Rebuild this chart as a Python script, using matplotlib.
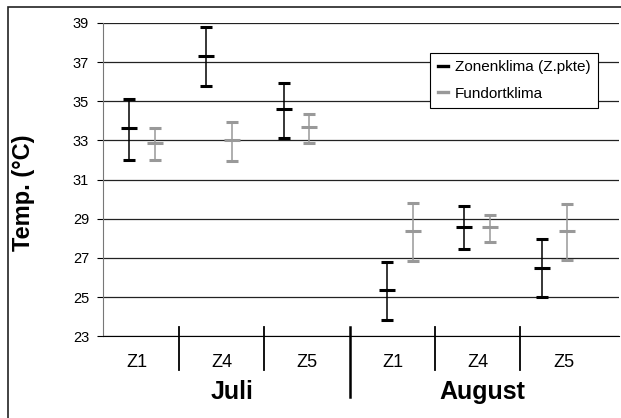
import matplotlib
matplotlib.use('Agg')
import matplotlib.pyplot as plt
import matplotlib.transforms as mtransforms
from matplotlib.patches import Rectangle
from matplotlib.lines import Line2D

plt.rcParams['font.family'] = ['Liberation Sans', 'DejaVu Sans']

# daten (mittelwert, obere und untere fehlergrenze)
gruppen = ['Z1', 'Z4', 'Z5', 'Z1', 'Z4', 'Z5']
monate = ['Juli', 'August']
x_zone = [1, 4, 7, 11, 14, 17]
x_fund = [2, 5, 8, 12, 15, 18]

zone_mittel = [33.62, 37.30, 34.62, 25.35, 28.58, 26.49]
zone_oben = [35.12, 38.78, 35.95, 26.81, 29.65, 27.97]
zone_unten = [32.02, 35.78, 33.14, 23.85, 27.44, 24.99]

fund_mittel = [32.85, 33.02, 33.70, 28.39, 28.58, 28.39]
fund_oben = [33.65, 33.94, 34.34, 29.81, 29.21, 29.76]
fund_unten = [32.02, 31.95, 32.89, 26.83, 27.82, 26.90]

trenner_x = [2.95, 6.25, 9.57, 12.87, 16.17]
gruppen_x = [1.3, 4.6, 7.9, 11.22, 14.52, 17.85]
monate_x = [5.0, 14.7]


def main():
    fig = plt.figure(figsize=(6.21, 4.18), dpi=100)
    ax = fig.add_axes([0.1659, 0.1955, 0.8309, 0.7495])

    # rahmen um das ganze diagramm
    fig.patches.append(Rectangle((8 / 621, -0.1), 1.2, 1 - 7 / 418 + 0.1,
                                 transform=fig.transFigure, fill=False,
                                 edgecolor='#222222', linewidth=1.2))

    err_z = [[m - u for m, u in zip(zone_mittel, zone_unten)],
             [o - m for m, o in zip(zone_mittel, zone_oben)]]
    err_f = [[m - u for m, u in zip(fund_mittel, fund_unten)],
             [o - m for m, o in zip(fund_mittel, fund_oben)]]

    ax.errorbar(x_zone, zone_mittel, yerr=err_z, fmt='_', color='black',
                ecolor='black', elinewidth=1.1, capsize=4.2, capthick=1.1,
                markersize=11, mew=2.2, zorder=3)
    ax.errorbar(x_fund, fund_mittel, yerr=err_f, fmt='_', color='#999999',
                ecolor='#999999', elinewidth=1.1, capsize=4.2, capthick=1.1,
                markersize=11, mew=2.2, zorder=3)

    ax.set_xlim(0, 20)
    ax.set_ylim(23, 39)
    ax.set_yticks(range(23, 40, 2))
    ax.set_xticks([])
    ax.tick_params(axis='y', labelsize=10.5, length=4, width=0.8, pad=6)
    ax.yaxis.grid(True, color='#222222', linewidth=0.9)
    ax.set_axisbelow(True)
    for s in ['top', 'right']:
        ax.spines[s].set_visible(False)
    ax.spines['left'].set_color('#777777')
    ax.spines['bottom'].set_color('black')

    # trennstriche und beschriftung unter der achse
    trans = mtransforms.blended_transform_factory(ax.transData, ax.transAxes)
    for i, xs in enumerate(trenner_x):
        unten = -0.194 if i == 2 else -0.107
        lw = 1.8 if i == 2 else 1.3
        ax.plot([xs, xs], [0.03, unten], color='black', linewidth=lw,
                transform=trans, clip_on=False)
    for xg, g in zip(gruppen_x, gruppen):
        ax.text(xg, -0.085, g, transform=trans, ha='center', va='center',
                fontsize=13)
    for xm, m in zip(monate_x, monate):
        ax.text(xm, -0.178, m, transform=trans, ha='center', va='center',
                fontsize=18, fontweight='bold')

    fig.text(0.0386, 0.539, 'Temp. (°C)', rotation=90, ha='center',
             va='center', fontsize=17, fontweight='bold')

    griffe = [Line2D([], [], color='black', linewidth=2.4),
              Line2D([], [], color='#999999', linewidth=2.4)]
    leg = ax.legend(griffe, ['Zonenklima (Z.pkte)', 'Fundortklima'],
                    loc='upper left', bbox_to_anchor=(0.634, 0.905),
                    fontsize=11, frameon=True, fancybox=False,
                    handlelength=0.7, handletextpad=0.4, borderpad=0.5,
                    labelspacing=0.8, borderaxespad=0)
    leg.get_frame().set_edgecolor('black')
    leg.get_frame().set_linewidth(0.8)
    leg.get_frame().set_alpha(1)

    fig.savefig('out.png', dpi=100)


if __name__ == '__main__':
    main()
